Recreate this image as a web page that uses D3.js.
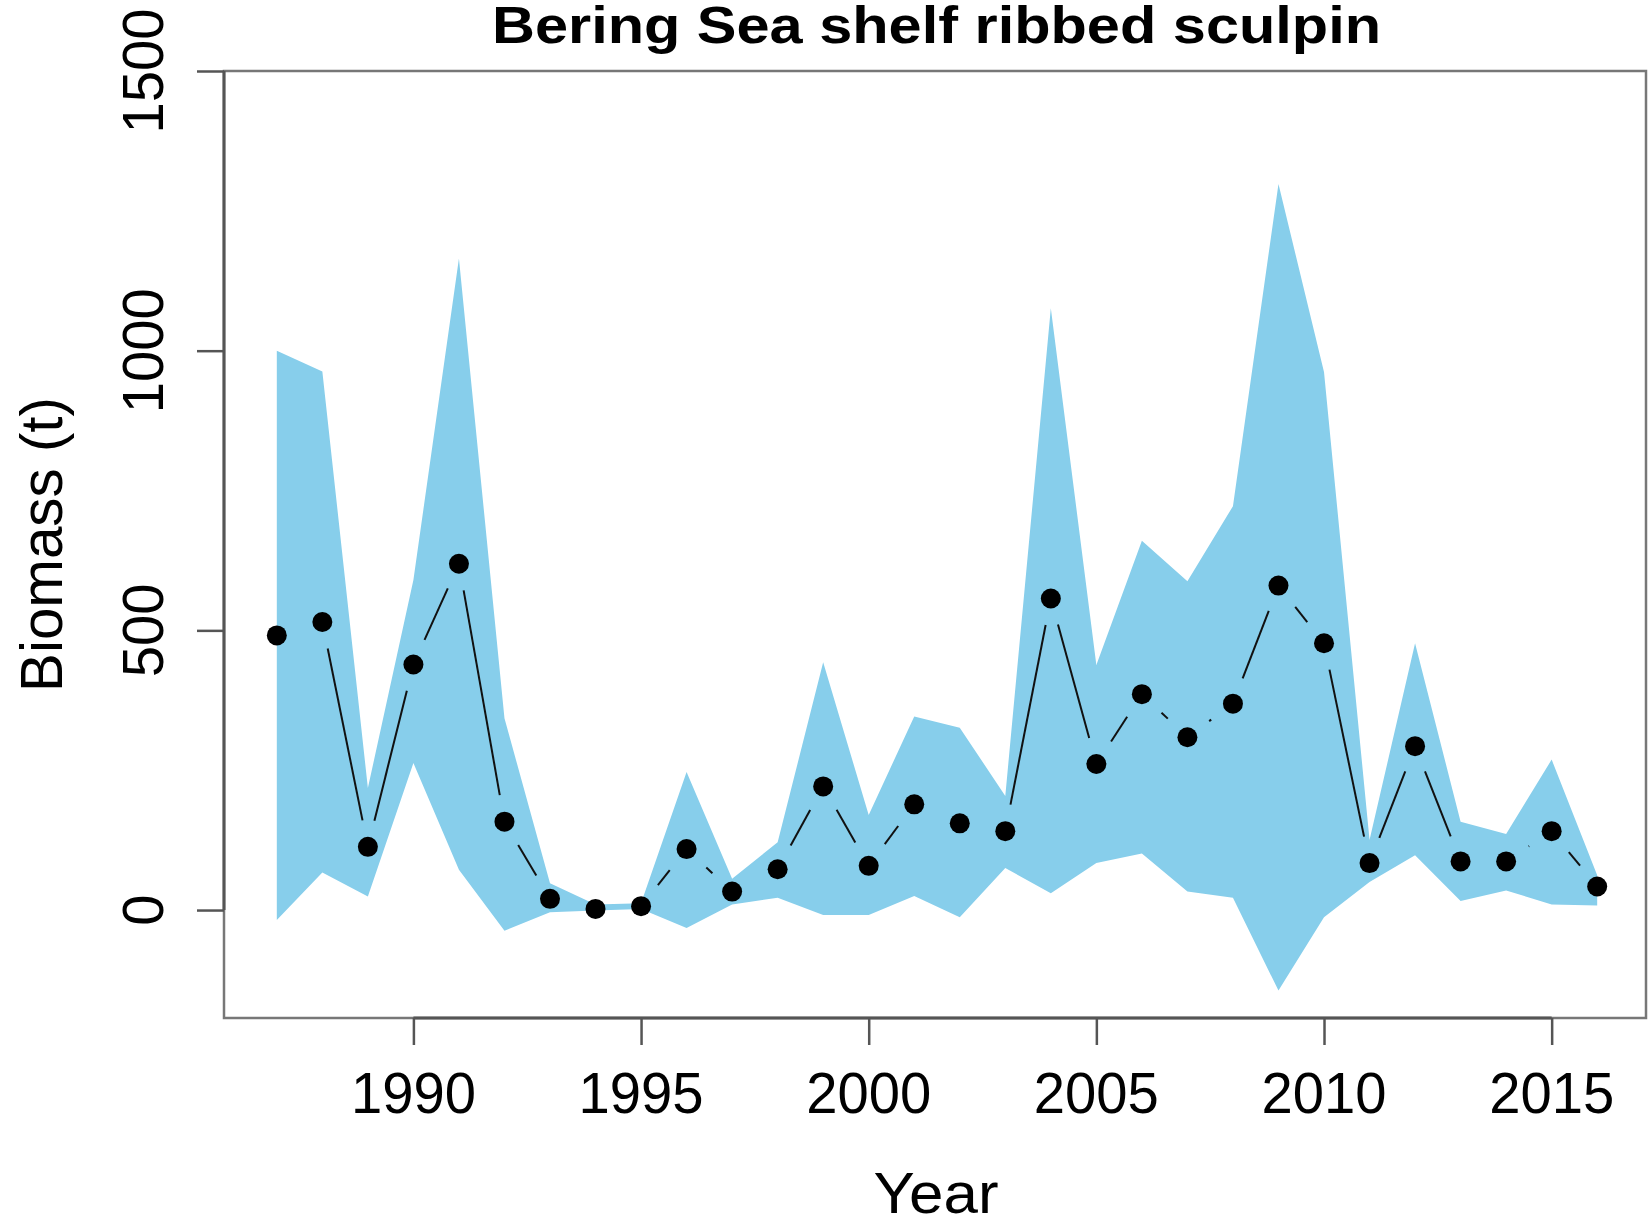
<!DOCTYPE html>
<html><head><meta charset="utf-8">
<script src="https://cdn.jsdelivr.net/npm/d3@7"></script>
<style>
body{margin:0;background:#fff}
svg{display:block}
text{font-family:"Liberation Sans",Arial,Helvetica,sans-serif;fill:#000}
</style>
</head><body>
<svg id="chart" width="1648" height="1225"></svg>
<script>
// ---- data ----
const years   = [1987,1988,1989,1990,1991,1992,1993,1994,1995,1996,1997,1998,1999,2000,2001,2002,2003,2004,2005,2006,2007,2008,2009,2010,2011,2012,2013,2014,2015,2016];
const biomass = [491,515,113,439,619,158,20,2,7,109,33,73,221,79,189,155,141,557,261,386,309,369,580,477,84,293,87,87,141,42];
const upperCI = [1000,963,218,590,1165,343,48,10,12,247,56,121,443,170,346,326,204,1076,438,660,588,722,1298,962,125,477,158,136,269,62];
const lowerCI = [-18,67,24,263,72,-37,-4,-1,2,-32,10,22,-9,-9,25,-13,75,30,84,101,33,22,-144,-13,50,98,16,35,10,8];
const xTicks = [1990,1995,2000,2005,2010,2015];
const yTicks = [0,500,1000,1500];
const titleText = "Bering Sea shelf ribbed sculpin";
const xLabel = "Year";
const yLabel = "Biomass (t)";

// ---- layout ----
const W = 1648, H = 1225;
const mLeft = 224, mTop = 71, mBottom = 1018, mRight = 1650;
const svg = d3.select("#chart");

const x = d3.scaleLinear().domain([1985.84, 2017.16]).range([mLeft, mRight]);
const y = d3.scaleLinear().domain([-193, 1500]).range([mBottom, mTop]);

const rows = years.map((yr, i) => ({year: yr, v: biomass[i], hi: upperCI[i], lo: lowerCI[i]}));

// confidence band
svg.append("path")
  .datum(rows)
  .attr("fill", "#87CEEB")
  .attr("d", d3.area().x(d => x(d.year)).y0(d => y(d.lo)).y1(d => y(d.hi)));

// line segments with gaps (R type="b")
const gap = 27;
for (let i = 0; i < rows.length - 1; i++) {
  const x0 = x(rows[i].year), y0 = y(rows[i].v);
  const x1 = x(rows[i+1].year), y1 = y(rows[i+1].v);
  const dx = x1 - x0, dy = y1 - y0, len = Math.hypot(dx, dy);
  if (len <= 2 * gap) continue;
  const ux = dx / len, uy = dy / len;
  svg.append("line")
    .attr("x1", x0 + ux * gap).attr("y1", y0 + uy * gap)
    .attr("x2", x1 - ux * gap).attr("y2", y1 - uy * gap)
    .attr("stroke", "#111").attr("stroke-width", 2);
}

// points
svg.append("g").selectAll("circle").data(rows).join("circle")
  .attr("cx", d => x(d.year)).attr("cy", d => y(d.v)).attr("r", 10)
  .attr("fill", "#000");

// frame
svg.append("rect")
  .attr("x", mLeft).attr("y", mTop)
  .attr("width", W - 2 - mLeft).attr("height", mBottom - mTop)
  .attr("fill", "none").attr("stroke", "#777").attr("stroke-width", 2.5);

// x axis
const gx = svg.append("g").attr("transform", `translate(0,${mBottom})`)
  .call(d3.axisBottom(x).tickValues(xTicks).tickSize(27).tickFormat(""));
gx.select(".domain").remove();
gx.selectAll(".tick line").attr("stroke", "#555").attr("stroke-width", 2.5);
svg.append("line")
  .attr("x1", x(xTicks[0])).attr("x2", x(xTicks[xTicks.length - 1]))
  .attr("y1", mBottom).attr("y2", mBottom)
  .attr("stroke", "#555").attr("stroke-width", 3);
svg.append("g").selectAll("text").data(xTicks).join("text")
  .attr("x", d => x(d)).attr("y", 1113)
  .attr("text-anchor", "middle").attr("font-size", 58)
  .attr("textLength", 125).attr("lengthAdjust", "spacingAndGlyphs")
  .text(d => d);

// y axis
const gy = svg.append("g").attr("transform", `translate(${mLeft},0)`)
  .call(d3.axisLeft(y).tickValues(yTicks).tickSize(27).tickFormat(""));
gy.select(".domain").remove();
gy.selectAll(".tick line").attr("stroke", "#555").attr("stroke-width", 2.5);
svg.append("line")
  .attr("x1", mLeft).attr("x2", mLeft)
  .attr("y1", y(yTicks[0])).attr("y2", y(yTicks[yTicks.length - 1]))
  .attr("stroke", "#555").attr("stroke-width", 3);
svg.append("g").selectAll("text").data(yTicks).join("text")
  .attr("transform", d => `translate(163,${y(d)}) rotate(-90)`)
  .attr("text-anchor", "middle").attr("font-size", 58)
  .attr("textLength", d => String(d).length * 31.3).attr("lengthAdjust", "spacingAndGlyphs")
  .text(d => d);

// labels
svg.append("text")
  .attr("x", 936.5).attr("y", 43)
  .attr("text-anchor", "middle").attr("font-size", 52).attr("font-weight", "bold")
  .attr("textLength", 889).attr("lengthAdjust", "spacingAndGlyphs")
  .text(titleText);
svg.append("text")
  .attr("x", 936).attr("y", 1213)
  .attr("text-anchor", "middle").attr("font-size", 57)
  .attr("textLength", 125).attr("lengthAdjust", "spacingAndGlyphs")
  .text(xLabel);
svg.append("text")
  .attr("transform", `translate(62,${(mTop + mBottom) / 2}) rotate(-90)`)
  .attr("text-anchor", "middle").attr("font-size", 59)
  .attr("textLength", 295).attr("lengthAdjust", "spacingAndGlyphs")
  .text(yLabel);
</script>
</body></html>
